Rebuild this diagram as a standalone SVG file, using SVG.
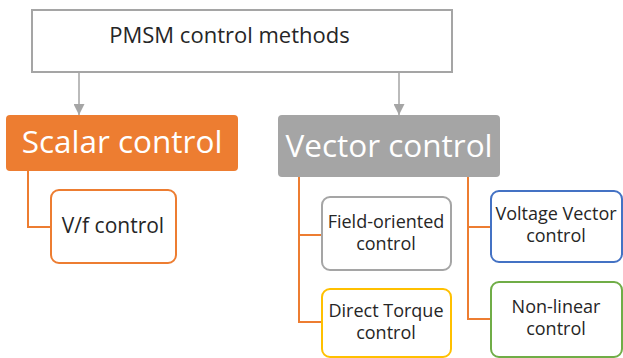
<svg xmlns="http://www.w3.org/2000/svg" width="623" height="358" viewBox="0 0 623 358">
<style>
text{font-family:"Open Sans","Noto Sans","DejaVu Sans",sans-serif;text-anchor:middle;fill:#262626}
.big{fill:#fff;font-size:31.5px}
.sm{font-size:18px}
.box{fill:#fff;stroke-width:2}
.con{fill:none;stroke:#ED7D31;stroke-width:2}
.arr{fill:none;stroke:#A5A5A5;stroke-width:1.5}
</style>
<defs>
<marker id="ah" viewBox="0 0 10 10" refX="10" refY="5" markerWidth="11" markerHeight="11" markerUnits="userSpaceOnUse" orient="auto">
<path d="M0,0 L10,5 L0,10 Z" fill="#A5A5A5"/>
</marker>
</defs>
<rect width="623" height="358" fill="#fff"/>
<g id="connectors">
<path class="arr" d="M79,72 V115" marker-end="url(#ah)"/>
<path class="arr" d="M399,72 V115" marker-end="url(#ah)"/>
<path class="con" d="M28,171 V227 H51"/>
<path class="con" d="M299,177 V322 H322 M299,235 H322"/>
<path class="con" d="M468,177 V319 H491 M468,227 H491"/>
</g>
<g id="root">
<rect x="32" y="10" width="420" height="62" fill="#fff" stroke="#A5A5A5" stroke-width="2"/>
<text x="229.5" y="43" font-size="22">PMSM control methods</text>
</g>
<g id="scalar">
<rect x="6" y="115" width="232" height="56" rx="4" fill="#ED7D31"/>
<text class="big" x="122" y="153">Scalar control</text>
</g>
<g id="vector">
<rect x="278" y="115" width="222" height="62" rx="4" fill="#A5A5A5"/>
<text class="big" x="389" y="157" font-size="32">Vector control</text>
</g>
<g id="vf">
<rect class="box" x="51" y="190" width="125" height="73" rx="8" stroke="#ED7D31"/>
<text x="113" y="233" font-size="21">V/f control</text>
</g>
<g id="foc">
<rect class="box" x="322" y="197" width="129" height="73" rx="8" stroke="#A5A5A5"/>
<text class="sm" x="386" y="228">Field-oriented</text>
<text class="sm" x="386" y="250">control</text>
</g>
<g id="dtc">
<rect class="box" x="322" y="289" width="129" height="68" rx="8" stroke="#FFC000"/>
<text class="sm" x="386" y="317">Direct Torque</text>
<text class="sm" x="386" y="339">control</text>
</g>
<g id="vvc">
<rect class="box" x="491" y="191" width="131" height="71" rx="8" stroke="#4472C4"/>
<text class="sm" x="556" y="220">Voltage Vector</text>
<text class="sm" x="556" y="242">control</text>
</g>
<g id="nlc">
<rect class="box" x="491" y="282" width="131" height="75" rx="8" stroke="#70AD47"/>
<text class="sm" x="556" y="313">Non-linear</text>
<text class="sm" x="556" y="335">control</text>
</g>
</svg>
